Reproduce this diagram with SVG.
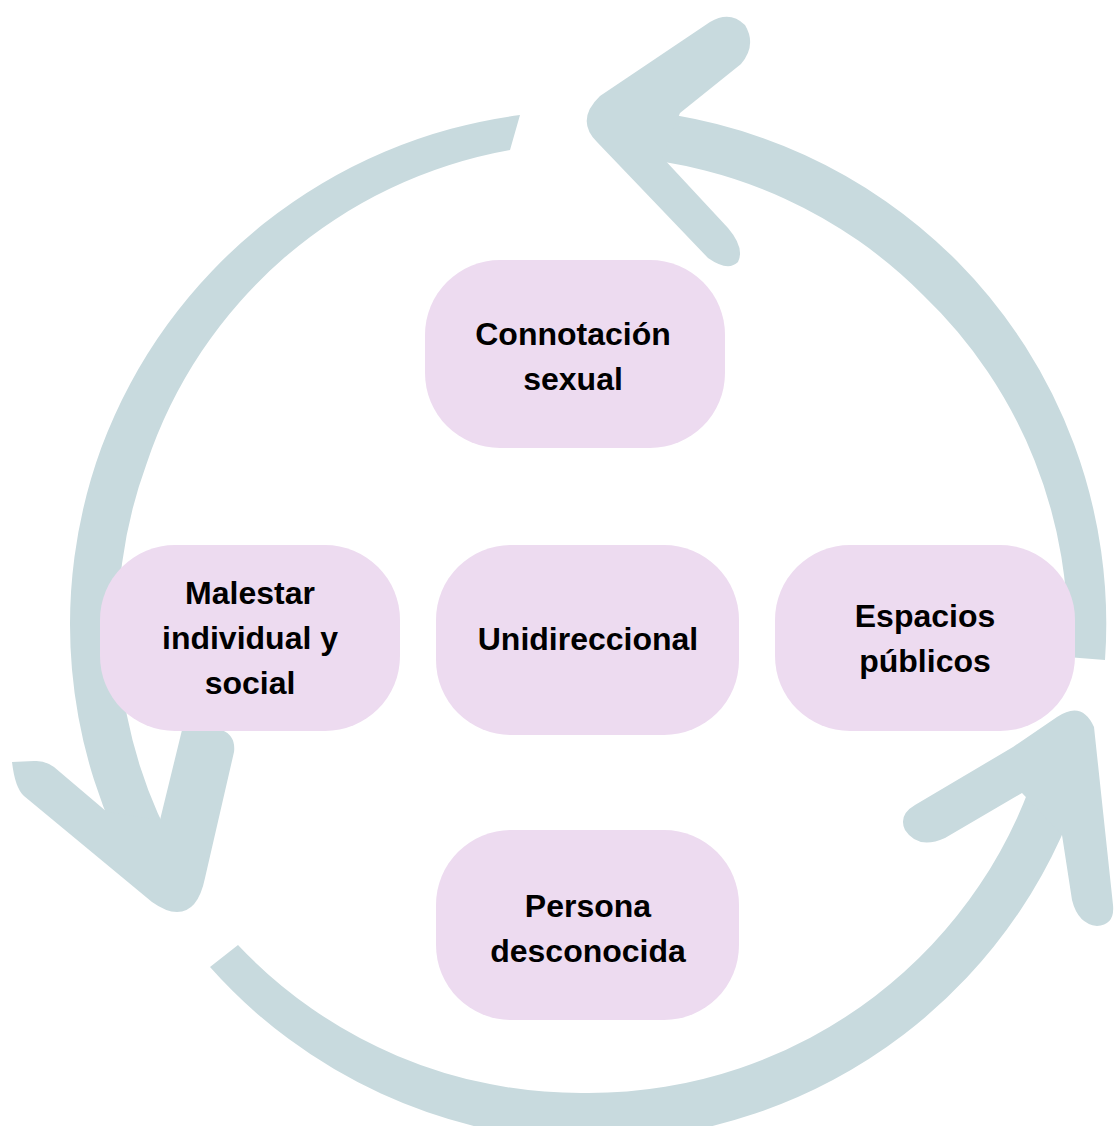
<svg xmlns="http://www.w3.org/2000/svg" width="1114" height="1126" viewBox="0 0 1114 1126">
  <style>
    .arrow { fill: #c8dade; stroke: none; }
    .box { fill: #eddbf0; }
    .label { font-family: "Liberation Sans", Arial, sans-serif; font-weight: bold; font-size: 32px; fill: #000; text-anchor: middle; }
  </style>
  <rect width="1114" height="1126" fill="#ffffff"/>
  <g id="connectors">
    <!-- left arc: top to lower-left -->
    <path class="arrow" d="M520,115 A518.5,516.5 0 0 0 101.3,447.8 A518.5,516.5 0 0 0 139.5,882.8 L181,858.8 A470.5,468.5 0 0 1 146.4,464.3 A470.5,468.5 0 0 1 510,150 Z"/>
    <path class="arrow" d="M12,762 L34,761 Q44,760 54,767 L107,812 L160,820 L182,730 Q186,722 200,724 L222,730 Q236,736 234,752 L205,878 Q198,912 177,912 Q166,912 152,902 L24,796 Q15,788 12,762 Z"/>
    <!-- right arc: right to top -->
    <path class="arrow" d="M1105,660 A518.5,516.5 0 0 0 957,261 A518.5,516.5 0 0 0 624.7,109.2 L621.3,157.1 A470.5,468.5 0 0 1 923,295 A470.5,468.5 0 0 1 1067,657 Z"/>
    <path class="arrow" d="M600,96 L710,22 Q730,10 745,25 Q757,45 741,64 L680,113 L662,157 L728,228 Q745,248 738,262 Q728,272 708,258 L597,142 Q575,120 600,96 Z"/>
    <!-- bottom arc: lower-left to right -->
    <path class="arrow" d="M210,967 A518.5,516.5 0 0 0 588.5,1141 A518.5,516.5 0 0 0 1089.3,758.2 L1043,745.8 A470.5,468.5 0 0 1 588.5,1093 A470.5,468.5 0 0 1 238,945 Z"/>
    <path class="arrow" d="M1057,717 Q1082,700 1094,727 L1113,905 Q1115,925 1097,926 Q1078,924 1072,900 L1062,835 L1022,793 L945,838 Q918,850 905,830 Q898,815 915,805 L1013,747 Z"/>
  </g>
  <g id="node-connotacion">
    <rect class="box" x="425" y="260" width="300" height="188" rx="75" ry="75"/>
    <text class="label" x="573" y="345">Connotación</text>
    <text class="label" x="573" y="390">sexual</text>
  </g>
  <g id="node-malestar">
    <rect class="box" x="100" y="545" width="300" height="186" rx="75" ry="75"/>
    <text class="label" x="250" y="604">Malestar</text>
    <text class="label" x="250" y="649">individual y</text>
    <text class="label" x="250" y="694">social</text>
  </g>
  <g id="node-unidireccional">
    <rect class="box" x="436" y="545" width="303" height="190" rx="75" ry="75"/>
    <text class="label" x="588" y="650">Unidireccional</text>
  </g>
  <g id="node-espacios">
    <rect class="box" x="775" y="545" width="300" height="186" rx="75" ry="75"/>
    <text class="label" x="925" y="627">Espacios</text>
    <text class="label" x="925" y="672">públicos</text>
  </g>
  <g id="node-persona">
    <rect class="box" x="436" y="830" width="303" height="190" rx="75" ry="75"/>
    <text class="label" x="588" y="917">Persona</text>
    <text class="label" x="588" y="962">desconocida</text>
  </g>
</svg>
